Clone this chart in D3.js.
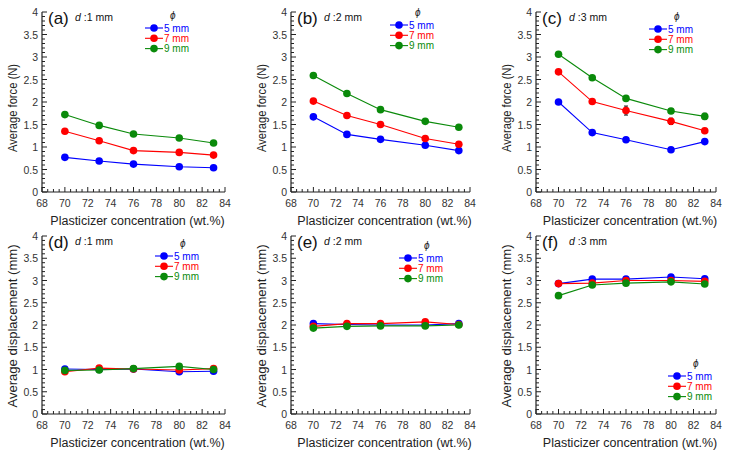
<!DOCTYPE html>
<html>
<head>
<meta charset="utf-8">
<script src="https://cdn.jsdelivr.net/npm/d3@7"></script>
<style>
  body { margin: 0; background: #fff; }
  svg { font-family: "Liberation Sans", Arial, sans-serif; }
</style>
</head>
<body>
<div id="chart"></div>
<script>
// x values (plasticizer concentration, wt.%)
const concentrations = [70, 73, 76, 80, 83];
const seriesNames = ["5 mm", "7 mm", "9 mm"];
const seriesColors = ["#0000ff", "#ff0000", "#0a8a0a"];

// (a)-(c) average force (N)
const forceD1 = [
  [0.77, 0.69, 0.62, 0.56, 0.54],
  [1.35, 1.14, 0.92, 0.88, 0.82],
  [1.72, 1.48, 1.29, 1.20, 1.09]
];
const forceD2 = [
  [1.67, 1.28, 1.17, 1.04, 0.92],
  [2.02, 1.70, 1.50, 1.19, 1.06],
  [2.59, 2.19, 1.83, 1.57, 1.44]
];
const forceD3 = [
  [2.00, 1.32, 1.16, 0.94, 1.12],
  [2.67, 2.01, 1.81, 1.57, 1.36],
  [3.06, 2.54, 2.08, 1.80, 1.68]
];
const forceD3Err = [
  [0.02, 0.02, 0.02, 0.02, 0.02],
  [0.03, 0.03, 0.10, 0.07, 0.03],
  [0.03, 0.03, 0.04, 0.04, 0.07]
];

// (d)-(f) average displacement (mm)
const dispD1 = [
  [1.01, 1.00, 1.01, 0.95, 0.96],
  [0.95, 1.03, 1.01, 0.99, 1.02],
  [0.98, 0.99, 1.02, 1.07, 1.00]
];
const dispD2 = [
  [2.03, 2.01, 2.00, 2.00, 2.03],
  [1.97, 2.03, 2.03, 2.07, 2.01],
  [1.93, 1.97, 1.98, 1.98, 2.00]
];
const dispD3 = [
  [2.93, 3.03, 3.03, 3.08, 3.04],
  [2.93, 2.94, 3.00, 3.00, 2.98],
  [2.66, 2.90, 2.94, 2.97, 2.92]
];

const xTicks = [68, 70, 72, 74, 76, 78, 80, 82, 84];
const yTicks = [0, 0.5, 1, 1.5, 2, 2.5, 3, 3.5, 4];

// panel layout
const cols = [{ x0: 42, x1: 225 }, { x0: 291, x1: 470 }, { x0: 536, x1: 716 }];
const rows = [{ y0: 12, y1: 192 }, { y0: 236, y1: 414 }];

const panels = [
  { tag: "(a)", d: "1", values: forceD1, col: 0, row: 0, ytitle: "Average force (N)", tlen: 88, tshift: 6, legend: [150, 28] },
  { tag: "(b)", d: "2", values: forceD2, col: 1, row: 0, ytitle: "Average force (N)", tlen: 88, tshift: 6, legend: [395, 25] },
  { tag: "(c)", d: "3", values: forceD3, err: forceD3Err, col: 2, row: 0, ytitle: "Average force (N)", tlen: 88, tshift: 6, legend: [654, 29] },
  { tag: "(d)", d: "1", values: dispD1, col: 0, row: 1, ytitle: "Average displacement (mm)", tlen: 163, tshift: 1, legend: [160, 256] },
  { tag: "(e)", d: "2", values: dispD2, col: 1, row: 1, ytitle: "Average displacement (mm)", tlen: 163, tshift: 1, legend: [404, 258] },
  { tag: "(f)", d: "3", values: dispD3, col: 2, row: 1, ytitle: "Average displacement (mm)", tlen: 163, tshift: 1, legend: [673, 376] }
];

const svg = d3.select("#chart")
  .append("svg")
  .attr("width", 729)
  .attr("height", 450);

panels.forEach(p => {
  const c = cols[p.col], r = rows[p.row];
  const x = d3.scaleLinear().domain([68, 84]).range([c.x0, c.x1]);
  const y = d3.scaleLinear().domain([0, 4]).range([r.y1, r.y0]);
  const g = svg.append("g");

  // ticks pointing inward, minor every 0.5 on x and 0.1 on y
  const xMinor = d3.range(68, 84.01, 0.5);
  const yMinor = d3.range(0, 4.001, 0.1);
  g.selectAll(".xminor").data(xMinor).enter().append("line")
    .attr("x1", d => x(d)).attr("x2", d => x(d))
    .attr("y1", r.y1).attr("y2", d => r.y1 - (xTicks.includes(d) ? 5 : 3))
    .attr("stroke", "#222").attr("stroke-width", 1);
  g.selectAll(".yminor").data(yMinor).enter().append("line")
    .attr("y1", d => y(d)).attr("y2", d => y(d))
    .attr("x1", c.x0).attr("x2", (d, i) => c.x0 + (i % 5 === 0 ? 5 : 3))
    .attr("stroke", "#222").attr("stroke-width", 1);

  // axis lines
  g.append("line").attr("x1", c.x0).attr("x2", c.x1).attr("y1", r.y1).attr("y2", r.y1)
    .attr("stroke", "#222").attr("stroke-width", 1.2);
  g.append("line").attr("x1", c.x0).attr("x2", c.x0).attr("y1", r.y0).attr("y2", r.y1)
    .attr("stroke", "#222").attr("stroke-width", 1.2);

  // tick labels
  g.selectAll(".xl").data(xTicks).enter().append("text")
    .attr("x", d => x(d)).attr("y", r.y1 + 15)
    .attr("text-anchor", "middle")
    .style("font-size", "10.5px").style("fill", "#333")
    .text(d => d);
  g.selectAll(".yl").data(yTicks).enter().append("text")
    .attr("x", c.x0 - 4).attr("y", d => y(d) + 4)
    .attr("text-anchor", "end")
    .style("font-size", "10.5px").style("fill", "#333")
    .text(d => d);

  // axis titles
  g.append("text")
    .attr("x", (c.x0 + c.x1) / 2 + 4).attr("y", r.y1 + 33)
    .attr("text-anchor", "middle")
    .style("font-size", "12.5px").style("fill", "#222")
    .text("Plasticizer concentration (wt.%)");
  g.append("text")
    .attr("transform", `translate(${c.x0 - 25},${(r.y0 + r.y1) / 2 + p.tshift}) rotate(-90)`)
    .attr("text-anchor", "middle")
    .attr("textLength", p.tlen)
    .attr("lengthAdjust", "spacingAndGlyphs")
    .style("font-size", "13px").style("fill", "#222")
    .text(p.ytitle);

  // panel tag and d label
  g.append("text")
    .attr("x", c.x0 + 6).attr("y", r.y0 + 12)
    .style("font-size", "17px").style("fill", "#111")
    .text(p.tag);
  const dl = g.append("text")
    .attr("x", c.x0 + 33).attr("y", r.y0 + 9)
    .style("font-size", "10.5px").style("fill", "#111");
  dl.append("tspan").style("font-style", "italic").text("d");
  dl.append("tspan").text(" :" + p.d + " mm");

  // series
  const line = d3.line().x((d, i) => x(concentrations[i])).y(d => y(d));
  p.values.forEach((vals, s) => {
    g.append("path").datum(vals)
      .attr("d", line)
      .attr("fill", "none")
      .attr("stroke", seriesColors[s])
      .attr("stroke-width", 1.1);
    if (p.err) {
      g.selectAll(null).data(vals).enter().append("path")
        .attr("d", (d, i) => {
          const xx = x(concentrations[i]), e = p.err[s][i];
          return `M${xx - 2},${y(d + e)}H${xx + 2}M${xx},${y(d + e)}V${y(d - e)}M${xx - 2},${y(d - e)}H${xx + 2}`;
        })
        .attr("stroke", "#111").attr("stroke-width", 1).attr("fill", "none");
    }
    g.selectAll(null).data(vals).enter().append("circle")
      .attr("cx", (d, i) => x(concentrations[i]))
      .attr("cy", d => y(d))
      .attr("r", 3.8)
      .attr("fill", seriesColors[s]);
  });

  // legend
  const [lx, ly] = p.legend;
  g.append("text")
    .attr("x", lx + 20).attr("y", ly - 9)
    .style("font-size", "10px").style("font-style", "italic").style("fill", "#222")
    .text("\u03d5");
  seriesNames.forEach((name, s) => {
    const yy = ly + s * 10.3;
    g.append("line").attr("x1", lx - 5).attr("x2", lx + 13).attr("y1", yy).attr("y2", yy)
      .attr("stroke", seriesColors[s]).attr("stroke-width", 1.1);
    g.append("circle").attr("cx", lx + 4).attr("cy", yy).attr("r", 3.8).attr("fill", seriesColors[s]);
    g.append("text").attr("x", lx + 14).attr("y", yy + 3.6)
      .style("font-size", "10px").style("fill", seriesColors[s])
      .text(name);
  });
});
</script>
</body>
</html>
